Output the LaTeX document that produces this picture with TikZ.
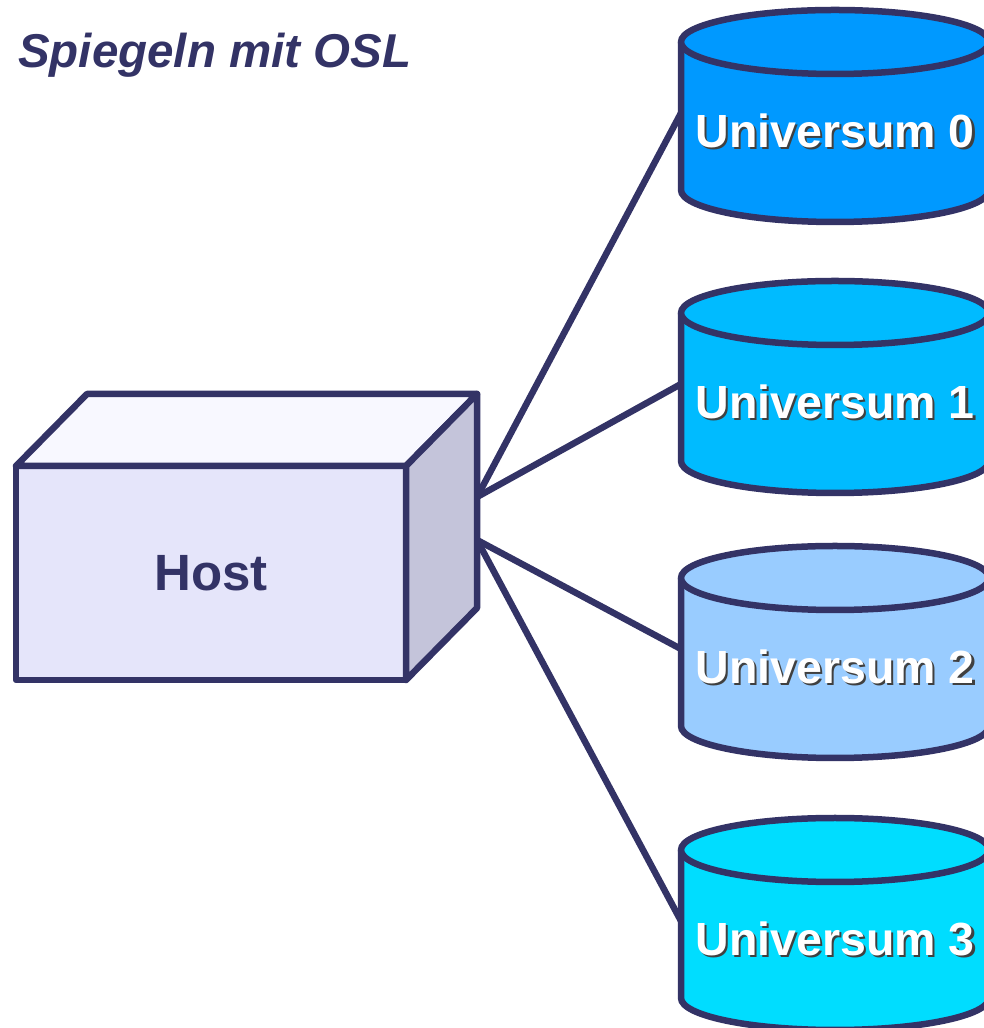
\documentclass[tikz,border=0pt]{standalone}
\usepackage{fontspec}
\setmainfont{Liberation Sans}
\usetikzlibrary{calc, positioning}

\definecolor{navy}{HTML}{333366}
\definecolor{hostfront}{HTML}{E5E5FA}
\definecolor{hosttop}{HTML}{F8F8FF}
\definecolor{hostside}{HTML}{C4C4DA}
\definecolor{uni0}{HTML}{0099FF}
\definecolor{uni1}{HTML}{00BBFF}
\definecolor{uni2}{HTML}{99CCFF}
\definecolor{uni3}{HTML}{00DDFF}

% white text with a dark drop shadow
\newcommand{\dropshadowtext}[1]{%
    \makebox[0pt][l]{\hspace{2.5pt}\raisebox{-2.5pt}{\color{black!75}#1}}#1}

\tikzset{
    edge line/.style={draw=navy, line width=6.5pt, line join=round},
    hostbox/.style={edge line, fill=hostfront, minimum width=390pt, minimum height=214pt,
        inner sep=0pt, outer sep=0pt, text=navy, font=\fontsize{51}{60}\selectfont\bfseries},
    unilabel/.style={inner sep=0pt, text=white, font=\fontsize{46.5}{55}\selectfont\bfseries},
    heading/.style={inner sep=0pt, anchor=base west, text=navy,
        font=\fontsize{47.5}{56}\selectfont\bfseries\itshape},
    link/.style={draw=navy, line width=6.5pt},
}

\begin{document}
\begin{tikzpicture}[x=1pt, y=1pt]
    \useasboundingbox (0,0) rectangle (984,1028);

    \node[heading] (title) at (18,960) {Spiegeln mit OSL};

    % host box
    \node[hostbox] (host) at (211,455) {Host};
    \draw[edge line, fill=hosttop] (host.north west) -- ++(71,72)
        -- ($(host.north east)+(71,72)$) -- (host.north east) -- cycle;
    \draw[edge line, fill=hostside] (host.north east) -- ++(71,72)
        -- ($(host.south east)+(71,72)$) -- (host.south east) -- cycle;
    \coordinate (hostup) at ($(host.east)+(71,76)$);
    \coordinate (hostdn) at ($(host.east)+(71,33)$);

    % universes
    \foreach \i/\ty/\col in {0/986/uni0, 1/715/uni1, 2/450/uni2, 3/178/uni3} {
        \path[edge line, fill=\col] (681,\ty) -- (681,\ty-148)
            arc[start angle=180, end angle=360, x radius=154, y radius=32] -- (989,\ty);
        \draw[edge line, fill=\col] (835,\ty) ellipse [x radius=154, y radius=32];
        \node[unilabel] (u\i) at (835,\ty-90) {\dropshadowtext{Universum \i}};
        \coordinate (u\i-in) at (681,\ty-71);
    }

    \draw[link] (hostup) -- (u0-in);
    \draw[link] (hostup) -- (u1-in);
    \draw[link] (hostdn) -- (u2-in);
    \draw[link] (hostdn) -- (u3-in);
\end{tikzpicture}
\end{document}
